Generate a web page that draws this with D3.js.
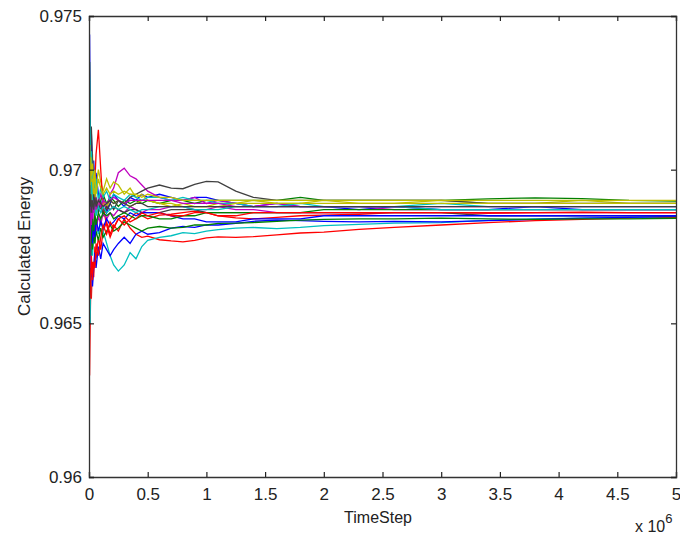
<!DOCTYPE html>
<html><head><meta charset="utf-8">
<script src="https://cdn.jsdelivr.net/npm/d3@7"></script>
<style>
body{margin:0;background:#fff;}
text{font-family:"Liberation Sans",Arial,sans-serif;fill:#222;}
</style></head>
<body><svg id="c" width="680" height="537"></svg>
<script>
// x positions in units of 1e6 time steps
const timeSteps = [0, .005, .01, .015, .02, .03, .04, .05, .06, .08, .1, .12, .15, .18, .21, .25, .3, .35, .4, .45, .5, .6, .7, .8, .9, 1.0, 1.1, 1.25, 1.4, 1.6, 1.8, 2.0, 2.3, 2.6, 3.0, 3.4, 3.8, 4.2, 4.6, 5.0];
const xTicks = [0, 0.5, 1, 1.5, 2, 2.5, 3, 3.5, 4, 4.5, 5];
const yTicks = [0.96, 0.965, 0.97, 0.975];
const colorCycle = ["#0000ff", "#008000", "#ff0000", "#00bfbf", "#bf00bf", "#bfbf00", "#404040"];

const s01 = [0.9702,0.9744,0.9718,0.9706,0.9712,0.9698,0.9703,0.9695,0.9699,0.9692,0.9688,0.9691,0.9686,0.9689,0.9692,0.9690,0.9688,0.9691,0.9690,0.9692,0.9691,0.9692,0.9691,0.9690,0.9691,0.9691,0.9690,0.9689,0.9688,0.9689,0.9688,0.9688,0.9687,0.9688,0.9687,0.9687,0.9688,0.9687,0.9687,0.9687];
const s02 = [0.9690,0.9735,0.9702,0.9694,0.9688,0.9696,0.9690,0.9686,0.9689,0.9687,0.9690,0.9692,0.9689,0.9691,0.9690,0.9688,0.9690,0.9689,0.9690,0.9689,0.9690,0.9689,0.9690,0.9690,0.9689,0.9690,0.9690,0.9690,0.9690,0.9690,0.9691,0.9690,0.9690,0.9690,0.9690,0.96905,0.96908,0.96906,0.96900,0.96898];
const s03 = [0.9690,0.9633,0.9650,0.9662,0.9658,0.9670,0.9665,0.9675,0.9671,0.9678,0.9674,0.9680,0.9683,0.9679,0.9682,0.9680,0.9684,0.9681,0.9679,0.9678,0.96784,0.96772,0.96768,0.96765,0.96770,0.96778,0.96781,0.96780,0.96782,0.96788,0.96794,0.96797,0.96806,0.96812,0.96820,0.96828,0.96834,0.96838,0.96842,0.96845];
const s04 = [0.9700,0.9690,0.9650,0.9668,0.9675,0.9672,0.9680,0.9676,0.9682,0.9679,0.9684,0.9680,0.9676,0.9672,0.9669,0.9667,0.9669,0.9673,0.9671,0.9675,0.9677,0.9678,0.96785,0.96795,0.96792,0.96800,0.96805,0.96810,0.96812,0.96808,0.96812,0.96818,0.96822,0.96826,0.96828,0.96835,0.96840,0.96842,0.96845,0.96848];
const s05 = [0.9680,0.9666,0.9672,0.9680,0.9675,0.9684,0.9690,0.9686,0.9691,0.9688,0.9692,0.9690,0.9687,0.9692,0.9694,0.9699,0.97005,0.9698,0.9697,0.9695,0.9693,0.9691,0.9690,0.9690,0.9691,0.9689,0.9690,0.9689,0.9688,0.9689,0.9688,0.9688,0.9688,0.9687,0.9687,0.9687,0.9687,0.9687,0.9687,0.9687];
const s06 = [0.9690,0.9712,0.9685,0.9700,0.9693,0.9705,0.9690,0.9698,0.9694,0.9700,0.9696,0.9693,0.9697,0.9694,0.9696,0.9695,0.9692,0.9694,0.9691,0.9692,0.9690,0.9689,0.9688,0.9689,0.9688,0.9688,0.9689,0.9689,0.9690,0.9689,0.9689,0.9690,0.9689,0.9689,0.9690,0.9689,0.9689,0.9690,0.9689,0.9689];
const s07 = [0.9700,0.9718,0.9705,0.9710,0.9714,0.9702,0.9698,0.9694,0.9690,0.9686,0.9688,0.9685,0.9687,0.9689,0.9687,0.9690,0.9689,0.9691,0.9692,0.9693,0.9694,0.96950,0.96940,0.96938,0.96952,0.96962,0.96960,0.96930,0.96910,0.96900,0.9690,0.9690,0.9690,0.9690,0.9690,0.9689,0.9689,0.9689,0.9689,0.9689];
const s08 = [0.9690,0.9680,0.9672,0.9665,0.9670,0.9662,0.9668,0.9673,0.9668,0.9675,0.9671,0.9676,0.9674,0.9672,0.9674,0.9676,0.9678,0.9676,0.9679,0.9680,0.9679,0.96795,0.9681,0.96815,0.96812,0.9682,0.9682,0.96825,0.96832,0.96836,0.96834,0.96832,0.96830,0.96832,0.96830,0.96834,0.96838,0.96842,0.96845,0.96848];
const s09 = [0.9680,0.9700,0.9688,0.9676,0.9682,0.9674,0.9679,0.9676,0.9680,0.9677,0.9681,0.9678,0.9680,0.9682,0.9680,0.9681,0.9683,0.9682,0.9681,0.9680,0.9681,0.96815,0.9681,0.96812,0.9682,0.9682,0.96825,0.96826,0.96828,0.96832,0.96836,0.96838,0.96840,0.96840,0.96842,0.96840,0.96838,0.96840,0.96840,0.96842];
const s10 = [0.9695,0.9688,0.9678,0.9690,0.9684,0.9692,0.9688,0.9696,0.9705,0.9713,0.9700,0.9688,0.9682,0.9678,0.9681,0.9684,0.9682,0.9684,0.9686,0.9685,0.9684,0.96852,0.96855,0.9686,0.96865,0.9686,0.96850,0.96843,0.96840,0.96845,0.9685,0.96852,0.96855,0.9686,0.9686,0.96858,0.9686,0.96862,0.9686,0.9686];
const s11 = [0.9720,0.9730,0.9712,0.9700,0.9706,0.9694,0.9700,0.9692,0.9697,0.9690,0.9694,0.9691,0.9693,0.9690,0.9692,0.9691,0.9690,0.9692,0.9691,0.9690,0.9691,0.9691,0.9690,0.9691,0.9690,0.9690,0.9689,0.9689,0.9688,0.9688,0.9689,0.9688,0.9688,0.9688,0.9689,0.9688,0.9688,0.9688,0.9688,0.9688];
const s12 = [0.9670,0.9680,0.9668,0.9675,0.9683,0.9690,0.9678,0.9684,0.9680,0.9685,0.9682,0.9686,0.9684,0.9686,0.9685,0.9687,0.9686,0.9688,0.9687,0.9686,0.9687,0.9687,0.9688,0.9688,0.9687,0.9687,0.9688,0.9687,0.9687,0.9686,0.9686,0.9686,0.9686,0.9686,0.9686,0.9686,0.9686,0.9686,0.9686,0.9686];
const s13 = [0.9705,0.9695,0.9708,0.9698,0.9690,0.9697,0.9688,0.9694,0.9686,0.9690,0.9688,0.9690,0.9688,0.9690,0.9689,0.9690,0.9689,0.9688,0.9689,0.9690,0.9690,0.9689,0.9689,0.9688,0.9688,0.9688,0.9688,0.9689,0.9689,0.9689,0.9689,0.9689,0.9689,0.9689,0.9689,0.9689,0.9689,0.9689,0.9689,0.9689];
const s14 = [0.9690,0.9702,0.9692,0.9684,0.9690,0.9686,0.9692,0.9688,0.9690,0.9687,0.9689,0.9686,0.9688,0.9687,0.9688,0.9687,0.9686,0.9687,0.9687,0.9686,0.9686,0.9686,0.9687,0.9687,0.9687,0.9686,0.9686,0.9686,0.9686,0.9686,0.9686,0.9686,0.9686,0.9686,0.9686,0.9685,0.9685,0.9685,0.9685,0.9685];
const s15 = [0.9710,0.9700,0.9690,0.9680,0.9686,0.9676,0.9682,0.9678,0.9684,0.9680,0.9683,0.9681,0.9684,0.9682,0.9683,0.9685,0.9684,0.9686,0.9685,0.9686,0.9686,0.9686,0.9685,0.9684,0.9684,0.9683,0.9683,0.9683,0.9684,0.9684,0.9684,0.9685,0.9685,0.9685,0.9685,0.9685,0.9685,0.9685,0.9685,0.9685];
const s16 = [0.9700,0.9690,0.9682,0.9672,0.9678,0.9684,0.9680,0.9686,0.9682,0.9686,0.9684,0.9686,0.9685,0.9686,0.9684,0.9685,0.9686,0.9685,0.9684,0.9685,0.9685,0.9684,0.9684,0.9685,0.9685,0.9686,0.9686,0.9686,0.9686,0.9686,0.9686,0.9687,0.9687,0.9687,0.9687,0.9687,0.9687,0.9687,0.9687,0.9687];
const s17 = [0.9680,0.9665,0.9658,0.9666,0.9672,0.9664,0.9670,0.9668,0.9676,0.9672,0.9678,0.9682,0.9679,0.9683,0.9681,0.9684,0.9685,0.9683,0.9684,0.9686,0.9685,0.9686,0.9685,0.9685,0.9686,0.9686,0.9685,0.9685,0.9686,0.9686,0.9686,0.9686,0.9686,0.9686,0.9686,0.9686,0.9686,0.9686,0.9686,0.9686];
const s18 = [0.9695,0.9710,0.9700,0.9692,0.9696,0.9690,0.9686,0.9690,0.9685,0.9688,0.9686,0.9688,0.9686,0.9687,0.9688,0.9687,0.9688,0.9687,0.9686,0.9687,0.9687,0.9688,0.9688,0.9688,0.9687,0.9687,0.9687,0.9688,0.9688,0.9688,0.9688,0.9688,0.9688,0.9688,0.9687,0.9687,0.9687,0.9687,0.9687,0.9687];
const s19 = [0.9675,0.9668,0.9678,0.9688,0.9682,0.9690,0.9686,0.9691,0.9687,0.9690,0.9688,0.9690,0.9689,0.9690,0.9691,0.9690,0.9689,0.9690,0.9690,0.9690,0.9690,0.9690,0.9690,0.9689,0.9689,0.9689,0.9689,0.9688,0.9688,0.9688,0.9688,0.9688,0.9688,0.9688,0.9688,0.9688,0.9688,0.9688,0.9688,0.9688];
const s20 = [0.9700,0.9688,0.9696,0.9704,0.9698,0.9702,0.9694,0.9700,0.9692,0.9697,0.9694,0.9692,0.9694,0.9692,0.9693,0.9692,0.9693,0.9692,0.9692,0.9691,0.9692,0.9691,0.9691,0.9690,0.9690,0.9690,0.9690,0.9690,0.9690,0.9690,0.9690,0.9690,0.9690,0.9690,0.9690,0.9690,0.9690,0.9690,0.9690,0.9690];
const s21 = [0.9685,0.9695,0.9688,0.9692,0.9686,0.9690,0.9687,0.9691,0.9688,0.9690,0.9689,0.9688,0.9689,0.9690,0.9689,0.9690,0.9689,0.9688,0.9689,0.9689,0.9688,0.9688,0.9688,0.9688,0.9688,0.9688,0.9688,0.9688,0.9688,0.9688,0.9688,0.9688,0.9688,0.9688,0.9688,0.9688,0.9688,0.9688,0.9688,0.9688];
const seriesList = [s01,s02,s03,s04,s05,s06,s07,s08,s09,s10,s11,s12,s13,s14,s15,s16,s17,s18,s19,s20,s21];

const L = 89, R = 676, T = 16, B = 477;
const svg = d3.select("#c");
const x = d3.scaleLinear().domain([0, 5]).range([L, R]);
const y = d3.scaleLinear().domain([0.96, 0.975]).range([B, T]);

// lines
const line = d3.line().x((d, i) => x(timeSteps[i])).y(d => y(d));
const plot = svg.append("g");
plot.append("clipPath").attr("id", "clip").append("rect").attr("x", L).attr("y", T).attr("width", R - L).attr("height", B - T);
plot.selectAll("path.s").data(seriesList).join("path")
  .attr("class", "s")
  .attr("clip-path", "url(#clip)")
  .attr("d", line)
  .attr("fill", "none")
  .attr("stroke", (d, i) => colorCycle[i % colorCycle.length])
  .attr("stroke-width", 1.3);

// axes (MATLAB box with inward ticks)
const tickLen = 5;
const fmtX = d => d === 0 ? "0" : String(d);
const fmtY = d => d3.format(".3~f")(d);
const FS = 17;
const axB = svg.append("g").attr("transform", `translate(0,${B})`).call(d3.axisBottom(x).tickValues(xTicks).tickSize(-tickLen).tickPadding(11).tickFormat(fmtX));
const axT = svg.append("g").attr("transform", `translate(0,${T})`).call(d3.axisTop(x).tickValues(xTicks).tickSize(-tickLen).tickFormat(""));
const axL = svg.append("g").attr("transform", `translate(${L},0)`).call(d3.axisLeft(y).tickValues(yTicks).tickSize(-tickLen).tickPadding(7).tickFormat(fmtY));
const axR = svg.append("g").attr("transform", `translate(${R},0)`).call(d3.axisRight(y).tickValues(yTicks).tickSize(-tickLen).tickFormat(""));
[axB, axT, axL, axR].forEach(a => {
  a.select(".domain").attr("stroke", "#333").attr("stroke-width", 1.3);
  a.selectAll(".tick line").attr("stroke", "#222").attr("stroke-width", 1.2);
  a.selectAll("text").attr("font-size", FS).attr("fill", "#222").attr("font-family", "'Liberation Sans',Arial,sans-serif");
});
axB.selectAll(".tick text").attr("dy", "0.71em");

// labels
svg.append("text").attr("x", 378).attr("y", 523).attr("text-anchor", "middle").attr("font-size", 16).text("TimeStep");
svg.append("text").attr("transform", `translate(30,${(T + B) / 2}) rotate(-90)`).attr("text-anchor", "middle").attr("font-size", 17).text("Calculated Energy");
const mult = svg.append("text").attr("x", 635).attr("y", 532).attr("font-size", 16);
mult.append("tspan").text("x 10");
mult.append("tspan").attr("dy", -9).attr("font-size", 13).text("6");
</script></body></html>
